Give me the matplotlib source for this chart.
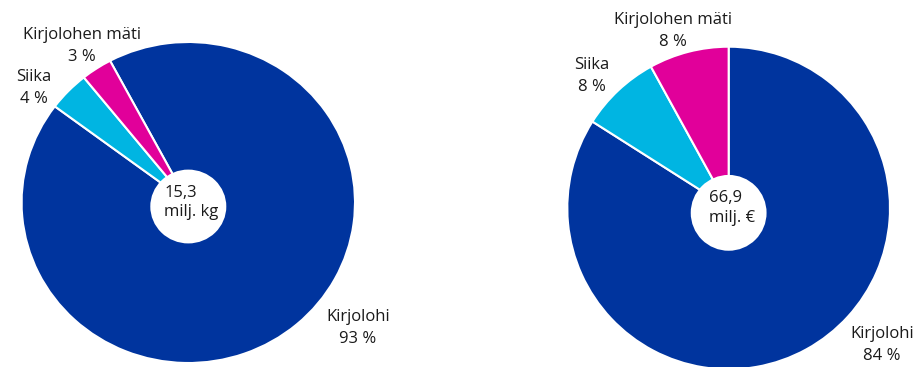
import matplotlib.pyplot as plt
from matplotlib.patches import Ellipse

plt.rcParams['font.family'] = ['Open Sans', 'DejaVu Sans']

# Volume (kg) and value (€) shares of fish farming
species = ['Kirjolohi', 'Siika', 'Kirjolohen mäti']
volume_share = [93, 4, 3]
value_share = [84, 8, 8]
volume_total = '15,3\nmilj. kg'
value_total = '66,9\nmilj. €'
colors = ['#00349E', '#00B5E2', '#E1009A']

W, H = 922, 367
fig = plt.figure(figsize=(W / 100, H / 100), dpi=100)


def px_axes(x0, y0, x1, y1):
    # axes placed by pixel box (top-left origin)
    return fig.add_axes([x0 / W, 1 - y1 / H, (x1 - x0) / W, (y1 - y0) / H])


def donut(ax, shares, start, total, hole_w, hole_h, hole_dy):
    ax.pie(shares, colors=colors, startangle=start, counterclock=False,
           radius=1, wedgeprops=dict(edgecolor='white', linewidth=1.5))
    ax.set_aspect('auto')
    ax.set_xlim(-1, 1)
    ax.set_ylim(-1, 1)
    ax.add_patch(Ellipse((0, hole_dy), hole_w, hole_h, facecolor='white',
                         edgecolor='none', zorder=5))
    ax.text(0.02, 0.0, total, ha='center', va='center', multialignment='left',
            fontsize=12, color='#1a1a1a', linespacing=1.25, zorder=6)
    ax.axis('off')


ax1 = px_axes(21.6, 42, 355, 363)
donut(ax1, volume_share, 118, volume_total, 0.456, 0.46, -0.025)

ax2 = px_axes(567.3, 46.7, 890, 369.3)
donut(ax2, value_share, 90, value_total, 0.47, 0.47, -0.03)


def label(x, y, s):
    fig.text(x / W, 1 - y / H, s, ha='center', va='center',
             fontsize=12, color='#1a1a1a', linespacing=1.42)


label(82, 46, f'{species[2]}\n{volume_share[2]} %')
label(34, 88, f'{species[1]}\n{volume_share[1]} %')
label(358, 328, f'{species[0]}\n{volume_share[0]} %')

label(673, 31, f'{species[2]}\n{value_share[2]} %')
label(592, 76, f'{species[1]}\n{value_share[1]} %')
label(882, 345, f'{species[0]}\n{value_share[0]} %')

fig.savefig('out.png', dpi=100)
